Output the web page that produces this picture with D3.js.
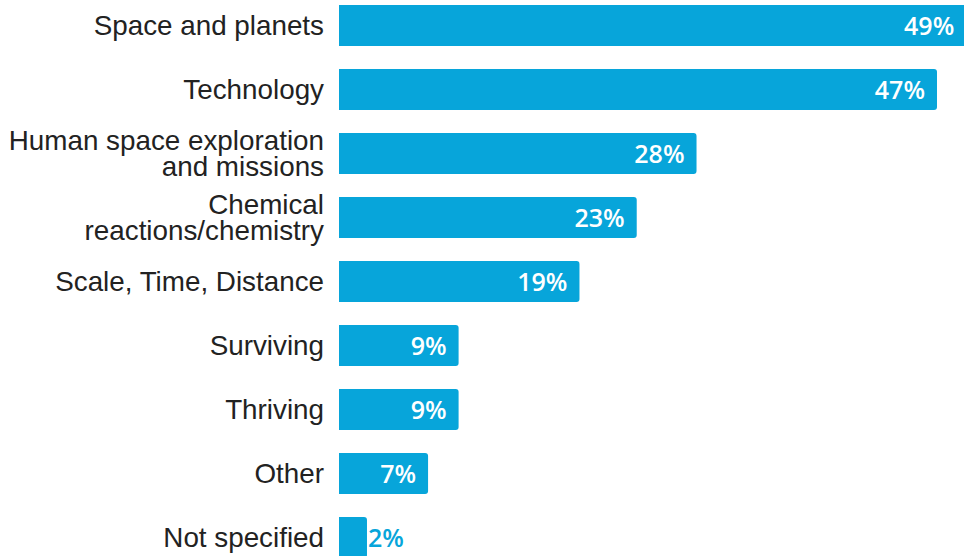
<!DOCTYPE html>
<html>
<head>
<meta charset="utf-8">
<script src="https://cdn.jsdelivr.net/npm/d3@7"></script>
<style>
  body { margin: 0; background: #fff; }
  svg { display: block; }
</style>
</head>
<body>
<svg id="chart" width="964" height="556"></svg>
<script>
let categories = [
  "Space and planets",
  "Technology",
  "Human space exploration\nand missions",
  "Chemical\nreactions/chemistry",
  "Scale, Time, Distance",
  "Surviving",
  "Thriving",
  "Other",
  "Not specified"
];
// bar lengths, labels are the rounded percentages
let values = [49.3, 47, 28.1, 23.4, 18.9, 9.4, 9.4, 7.0, 2.2];
let value_labels = ["49%", "47%", "28%", "23%", "19%", "9%", "9%", "7%", "2%"];

let bar_color = "#07a5da",
  left = 339,
  label_x = 324;

let svg = d3.select("#chart");

let x = d3.scaleLinear()
  .domain([0, 47])
  .range([left, 937]);

let y = d3.scaleBand()
  .domain(d3.range(categories.length))
  .range([5, 558])
  .paddingInner(23 / 64)
  .paddingOuter(0);

// bars, squared off on the left, rounded on the right
let r = 3;
svg.append("g")
  .selectAll("path")
  .data(values).enter()
  .append("path")
  .attr("fill", bar_color)
  .attr("d", (d, i) => {
    let x0 = x(0), x1 = x(d), y0 = y(i), h = y.bandwidth();
    return `M${x0},${y0}H${x1 - r}Q${x1},${y0} ${x1},${y0 + r}` +
      `V${y0 + h - r}Q${x1},${y0 + h} ${x1 - r},${y0 + h}H${x0}Z`;
  });

// category labels
let labels = svg.append("g")
  .selectAll("text")
  .data(categories).enter()
  .append("text")
  .attr("text-anchor", "end")
  .attr("font-family", "Liberation Sans, Arial, sans-serif")
  .attr("font-size", 27.8)
  .attr("fill", "#222");

labels.each(function (d, i) {
  let lines = d.split("\n"),
    cy = y(i) + y.bandwidth() / 2,
    lh = 26;
  let sel = d3.select(this);
  lines.forEach((ln, k) => {
    sel.append("tspan")
      .attr("x", label_x)
      .attr("y", cy + (k - (lines.length - 1) / 2) * lh)
      .attr("dy", "0.35em")
      .text(ln);
  });
});

// value labels
svg.append("g")
  .selectAll("text")
  .data(values).enter()
  .append("text")
  .attr("font-family", "Open Sans, sans-serif")
  .attr("font-weight", 600)
  .attr("font-size", 25)
  .attr("dy", "0.36em")
  .attr("y", (d, i) => y(i) + y.bandwidth() / 2)
  .each(function (d) {
    let inside = x(d) - x(0) > 60;
    d3.select(this)
      .attr("x", inside ? Math.min(x(d), 967) - 12 : x(d) + 1)
      .attr("text-anchor", inside ? "end" : "start")
      .attr("fill", inside ? "#fff" : bar_color)
      .attr("stroke", inside ? "none" : "#fff")
      .attr("stroke-width", 3)
      .attr("paint-order", "stroke");
  })
  .text((d, i) => value_labels[i]);
</script>
</body>
</html>
